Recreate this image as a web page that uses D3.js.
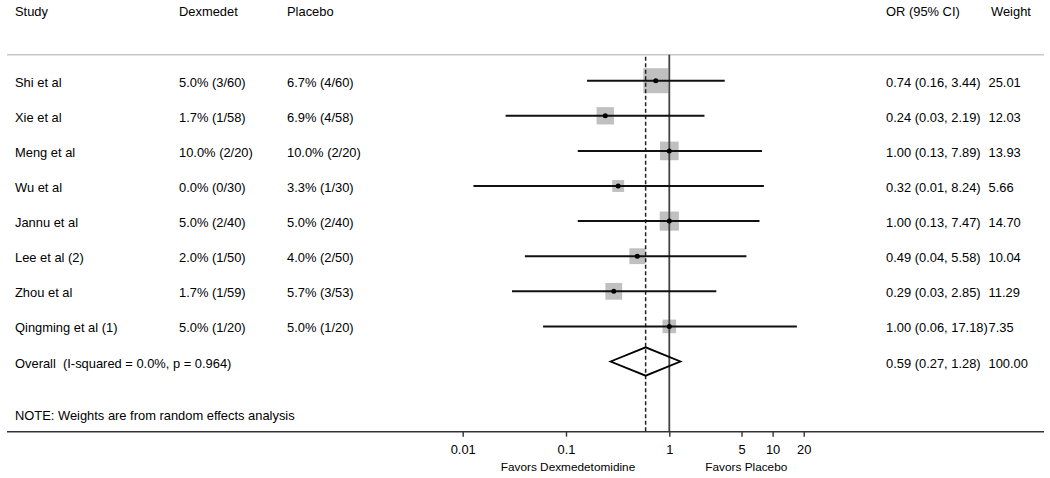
<!DOCTYPE html>
<html>
<head>
<meta charset="utf-8">
<script src="https://cdn.jsdelivr.net/npm/d3@7"></script>
<style>
  html, body { margin: 0; padding: 0; background: #fff; }
  svg { display: block; font-family: "Liberation Sans", Arial, Helvetica, sans-serif; }
  text { white-space: pre; }
</style>
</head>
<body>
<svg id="chart" width="1050" height="478"></svg>
<script>
// ---------- data ----------
const studies = ["Shi et al", "Xie et al", "Meng et al", "Wu et al", "Jannu et al", "Lee et al (2)", "Zhou et al", "Qingming et al (1)"];
const dexText = ["5.0% (3/60)", "1.7% (1/58)", "10.0% (2/20)", "0.0% (0/30)", "5.0% (2/40)", "2.0% (1/50)", "1.7% (1/59)", "5.0% (1/20)"];
const placeboText = ["6.7% (4/60)", "6.9% (4/58)", "10.0% (2/20)", "3.3% (1/30)", "5.0% (2/40)", "4.0% (2/50)", "5.7% (3/53)", "5.0% (1/20)"];
const orValues = [0.74, 0.24, 1.00, 0.32, 1.00, 0.49, 0.29, 1.00];
const ciLower = [0.16, 0.026, 0.13, 0.0127, 0.13, 0.04, 0.03, 0.06];
const ciUpper = [3.44, 2.19, 7.89, 8.24, 7.47, 5.58, 2.85, 17.18];
const weights = [25.01, 12.03, 13.93, 5.66, 14.70, 10.04, 11.29, 7.35];
const overall = { label: "Overall  (I-squared = 0.0%, p = 0.964)", or: 0.59, lower: 0.27, upper: 1.28, weight: 100.00 };
const headers = ["Study", "Dexmedet", "Placebo", "OR (95% CI)", "Weight"];
const noteText = "NOTE: Weights are from random effects analysis";
const tickValues = [0.01, 0.1, 1, 5, 10, 20];
const tickLabels = ["0.01", "0.1", "1", "5", "10", "20"];
const favorLabels = ["Favors Dexmedetomidine", "Favors Placebo"];

// ---------- layout ----------
const svg = d3.select("#chart");
const x = d3.scaleLog().domain([0.01, 20]).range([462.7, 803.7]);
const row = d3.scaleLinear().domain([0, 1]).range([80.7, 115.8]); // row index -> y center
const boxSide = d3.scaleSqrt().domain([0, 25]).range([0, 25]);
const fmt = v => v.toFixed(2);
const axisY = 431.7;
const ruleY = 54.7;
const colX = { study: 15, dex: 179, pla: 287, ci: 886, wt: 988.5 };
const fontSize = 12.9;
const textColor = "#000";

// header
const hx = [colX.study, colX.dex, colX.pla, colX.ci, 991];
svg.selectAll("text.hdr").data(headers).join("text")
  .attr("class", "hdr")
  .attr("x", (d, i) => hx[i]).attr("y", 16)
  .attr("font-size", fontSize).attr("fill", textColor)
  .text(d => d);

// header rule
svg.append("line").attr("x1", 7).attr("x2", 1044).attr("y1", ruleY).attr("y2", ruleY)
  .attr("stroke", "#c8c8c8").attr("stroke-width", 1.5);

// rows data
const rows = studies.map((s, i) => ({
  i, study: s, dex: dexText[i], pla: placeboText[i],
  or: orValues[i], lo: ciLower[i], hi: ciUpper[i], w: weights[i]
}));

// boxes
svg.selectAll("rect.box").data(rows).join("rect")
  .attr("class", "box")
  .attr("x", d => x(d.or) - boxSide(d.w) / 2)
  .attr("y", d => row(d.i) - boxSide(d.w) / 2)
  .attr("width", d => boxSide(d.w))
  .attr("height", d => boxSide(d.w))
  .attr("fill", "#c0c0c0");

// vertical reference lines
svg.append("line").attr("x1", x(1)).attr("x2", x(1)).attr("y1", ruleY).attr("y2", axisY)
  .attr("stroke", "#444").attr("stroke-width", 1.8);
svg.append("line").attr("x1", x(overall.or)).attr("x2", x(overall.or)).attr("y1", ruleY + 2).attr("y2", axisY)
  .attr("stroke", "#222").attr("stroke-width", 1.5).attr("stroke-dasharray", "4,2.5");

// CI lines
svg.selectAll("line.ci").data(rows).join("line")
  .attr("class", "ci")
  .attr("x1", d => x(d.lo)).attr("x2", d => x(d.hi))
  .attr("y1", d => row(d.i)).attr("y2", d => row(d.i))
  .attr("stroke", "#111").attr("stroke-width", 2);

// dots
svg.selectAll("circle.pt").data(rows).join("circle")
  .attr("class", "pt")
  .attr("cx", d => x(d.or)).attr("cy", d => row(d.i)).attr("r", 2.5)
  .attr("fill", "#000");

// overall diamond
const oy = row(8);
const dh = 14.2;
svg.append("path")
  .attr("d", d3.line()([
    [x(overall.lower), oy], [x(overall.or), oy - dh],
    [x(overall.upper), oy], [x(overall.or), oy + dh]
  ]) + "Z")
  .attr("fill", "none").attr("stroke", "#000").attr("stroke-width", 1.8);

// row texts
const textRows = rows.map(d => ({
  y: row(d.i), cells: [d.study, d.dex, d.pla, `${fmt(d.or)} (${fmt(d.lo)}, ${fmt(d.hi)})`, fmt(d.w)]
}));
textRows.push({ y: oy, cells: [overall.label, "", "", `${fmt(overall.or)} (${fmt(overall.lower)}, ${fmt(overall.upper)})`, fmt(overall.weight)] });
const cx = [colX.study, colX.dex, colX.pla, colX.ci, colX.wt];
const g = svg.selectAll("g.trow").data(textRows).join("g").attr("class", "trow");
g.selectAll("text").data(d => d.cells.map((c, j) => ({ c, j, y: d.y }))).join("text")
  .attr("x", d => cx[d.j]).attr("y", d => d.y + 6)
  .attr("font-size", fontSize).attr("fill", textColor)
  .text(d => d.c);

// note
svg.append("text").attr("x", colX.study).attr("y", 419.5)
  .attr("font-size", fontSize).attr("fill", textColor).text(noteText);

// axis
svg.append("line").attr("x1", 7).attr("x2", 1044).attr("y1", axisY).attr("y2", axisY)
  .attr("stroke", "#333").attr("stroke-width", 1.6);
const axis = d3.axisBottom(x).tickValues(tickValues).tickSize(5)
  .tickFormat((d, i) => tickLabels[i]);
const ag = svg.append("g").attr("transform", `translate(0,${axisY})`).call(axis);
ag.select(".domain").remove();
ag.selectAll(".tick line").attr("stroke", "#333").attr("stroke-width", 1.4);
ag.selectAll(".tick text").attr("font-size", fontSize).attr("fill", textColor)
  .attr("font-family", "Liberation Sans, Arial, sans-serif").attr("dy", null).attr("y", 22.5);

// favors labels
const favX = [568, 746.3];
svg.selectAll("text.fav").data(favorLabels).join("text")
  .attr("class", "fav")
  .attr("x", (d, i) => favX[i]).attr("y", 471)
  .attr("text-anchor", "middle").attr("font-size", 11.8).attr("fill", textColor)
  .text(d => d);
</script>
</body>
</html>
